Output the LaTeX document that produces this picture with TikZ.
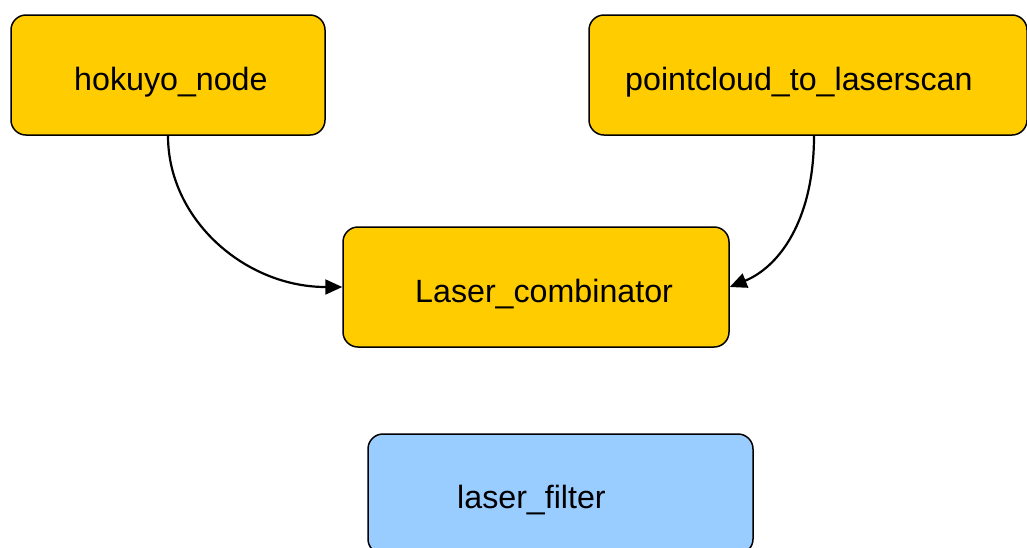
\documentclass[tikz,border=0pt]{standalone}
\usepackage{fontspec}
\setmainfont{Liberation Sans}
\usetikzlibrary{arrows.meta}
\definecolor{nodegold}{HTML}{FFCC00}
\definecolor{nodesky}{HTML}{99CCFF}
\begin{document}
\begin{tikzpicture}[x=1pt,y=-1pt,
  box/.style={draw=black, line width=1.5pt, rounded corners=15pt,
    minimum height=120pt, inner sep=0pt},
  gold/.style={box, fill=nodegold},
  sky/.style={box, fill=nodesky},
  lbl/.style={font=\fontsize{32.2}{38}\selectfont, inner sep=0pt, anchor=base west},
  link/.style={line width=2.2pt, -{Triangle[length=17pt,width=15pt]}}]
\useasboundingbox (0,0) rectangle (1027,547);

% boxes
\node[gold, minimum width=314pt] (hok)  at (168,75) {};
\node[gold, minimum width=438pt] (pc)   at (808,75) {};
\node[gold, minimum width=386pt] (comb) at (536,287) {};
\node[sky,  minimum width=385pt] (filt) at (560.5,494) {};

% labels
\node[lbl] (hoklbl)  at (74,90)  {hokuyo\_node};
\node[lbl] (pclbl)   at (625,90) {pointcloud\_to\_laserscan};
\node[lbl] (comblbl) at (415,302) {Laser\_combinator};
\node[lbl] (filtlbl) at (457,508) {laser\_filter};

% connectors
\draw[link] (hok.south) .. controls +(0,84) and +(-97,0) .. (comb.west);
\draw[link] ([xshift=6pt]pc.south) .. controls +(0,85) and +(49,-20) .. (comb.east);
\end{tikzpicture}
\end{document}
